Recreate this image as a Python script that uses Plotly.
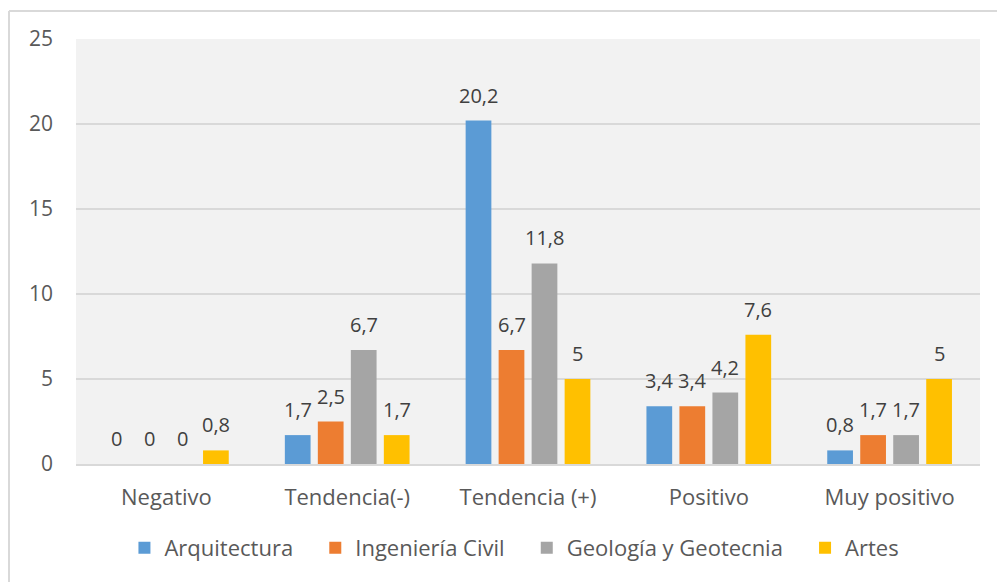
import plotly.graph_objects as go

categories = ["Negativo", "Tendencia(-)", "Tendencia (+)", "Positivo", "Muy positivo"]
series_names = ["Arquitectura", "Ingeniería Civil", "Geología y Geotecnia", "Artes"]
arquitectura = [0, 1.7, 20.2, 3.4, 0.8]
ingenieria = [0, 2.5, 6.7, 3.4, 1.7]
geologia = [0, 6.7, 11.8, 4.2, 1.7]
artes = [0.8, 1.7, 5, 7.6, 5]
series_values = [arquitectura, ingenieria, geologia, artes]
colors = ["#5B9BD5", "#ED7D31", "#A5A5A5", "#FFC000"]
y_ticks = [0, 5, 10, 15, 20, 25]

W, H = 997, 582
ML, MR, MT, MB = 76, 17, 39, 118
plot_w = W - ML - MR
plot_h = H - MT - MB
bargap = 0.27
bargroupgap = 0.22
FONT = "Open Sans"
AX_SIZE = 22
PAD = "\u00a0" * 3  # extra spacing after legend entries

def fmt(v):
    s = ("%.1f" % v).rstrip("0").rstrip(".")
    return s.replace(".", ",")

fig = go.Figure()
for idx, (name, vals, col) in enumerate(zip(series_names, series_values, colors)):
    fig.add_trace(go.Bar(
        x=categories, y=vals,
        name=name + (PAD if idx < len(series_names) - 1 else ""),
        marker=dict(color=col, line=dict(width=0)),
        hoverinfo="skip",
    ))

# data labels as annotations, positioned at each bar's slot
cat_w = plot_w / len(categories)
slot_w = cat_w * (1 - bargap) / len(series_names)
for i, vals in enumerate(series_values):
    offset = (i - (len(series_names) - 1) / 2) * slot_w
    for c, v in zip(categories, vals):
        fig.add_annotation(
            x=c, y=v, text=fmt(v), showarrow=False,
            xanchor="center", yanchor="bottom",
            xshift=offset, yshift=10,
            font=dict(family=FONT, size=20, color="#404040"),
        )

# outer chart border (left and top visible)
top_y = 1 + (MT - 11) / plot_h
left_x = (9 - ML) / plot_w
fig.add_shape(type="line", xref="paper", yref="paper",
              x0=left_x, x1=(W + 5 - ML) / plot_w, y0=top_y, y1=top_y,
              line=dict(color="#D9D9D9", width=2))
fig.add_shape(type="line", xref="paper", yref="paper",
              x0=left_x, x1=left_x, y0=top_y, y1=-(MB + 5) / plot_h,
              line=dict(color="#D9D9D9", width=2))

fig.update_layout(
    width=W, height=H,
    margin=dict(l=ML, r=MR, t=MT, b=MB),
    paper_bgcolor="white", plot_bgcolor="#F2F2F2",
    barmode="group", bargap=bargap, bargroupgap=bargroupgap,
    font=dict(family=FONT, size=AX_SIZE, color="#595959"),
    showlegend=True,
    legend=dict(orientation="h", x=0.485, xanchor="center", y=-(548 - (H - MB)) / plot_h,
                yanchor="middle",
                font=dict(family=FONT, size=AX_SIZE, color="#595959"),
                itemwidth=30, traceorder="normal", bgcolor="rgba(0,0,0,0)"),
    xaxis=dict(showgrid=False, showline=True, linecolor="#D9D9D9", linewidth=2,
               ticks="", ticklabelstandoff=13, tickfont=dict(size=AX_SIZE, color="#595959")),
    yaxis=dict(range=[0, 25], tickvals=y_ticks, showgrid=True, gridcolor="#D9D9D9",
               gridwidth=2, zeroline=False, showline=False, ticks="",
               ticklabelstandoff=22, tickfont=dict(size=21, color="#595959")),
)

fig.write_html("out.html", config={"displayModeBar": False},
               post_script="document.body.style.margin='0';")
